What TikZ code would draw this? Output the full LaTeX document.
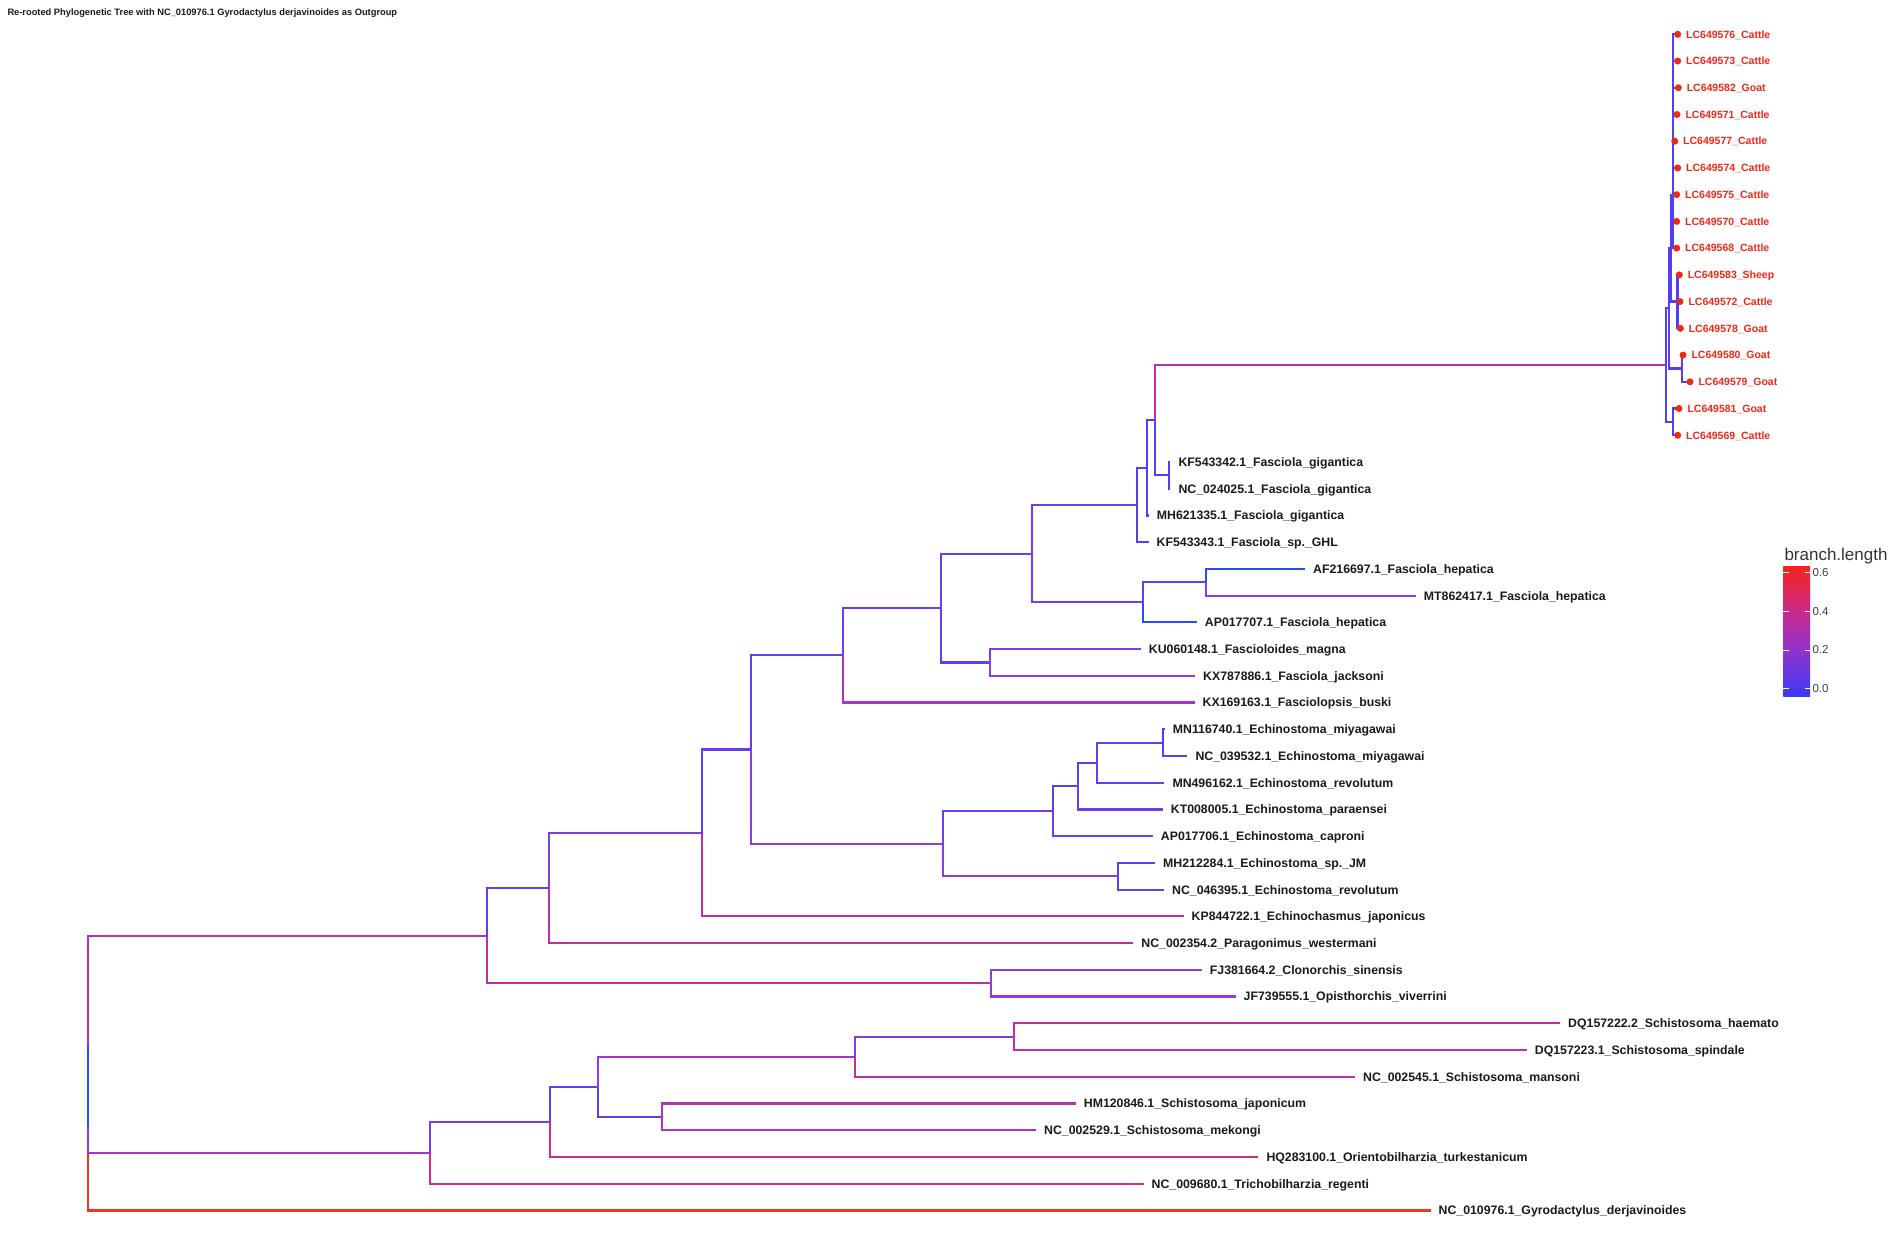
\documentclass[tikz,border=0pt]{standalone}
\usepackage{fontspec}
\setmainfont{Liberation Sans}
\newdimen\brdA
\newdimen\brdB
\definecolor{cA0}{RGB}{82,62,245}
\definecolor{cA1}{RGB}{142,60,228}
\definecolor{cA2}{RGB}{185,48,172}
\definecolor{cA3}{RGB}{210,45,135}
\definecolor{cA4}{RGB}{242,52,35}
\definecolor{brblue}{RGB}{45,75,245}
\definecolor{tipred}{RGB}{240,40,22}
\definecolor{labblack}{RGB}{26,26,26}
\definecolor{lg0}{RGB}{58,58,245}
\definecolor{lg1}{RGB}{145,50,205}
\definecolor{lg2}{RGB}{200,42,140}
\definecolor{lg3}{RGB}{245,35,30}
\newcommand\setbc[1]{%
  \pgfmathsetmacro\tq{min(1,max(0,#1))}%
  \ifdim\tq pt<0.15pt
    \pgfmathsetmacro\pp{100*\tq/0.15}\colorlet{bc}{cA1!\pp!cA0}%
  \else\ifdim\tq pt<0.35pt
    \pgfmathsetmacro\pp{100*(\tq-0.15)/0.2}\colorlet{bc}{cA2!\pp!cA1}%
  \else\ifdim\tq pt<0.55pt
    \pgfmathsetmacro\pp{100*(\tq-0.35)/0.2}\colorlet{bc}{cA3!\pp!cA2}%
  \else
    \pgfmathsetmacro\pp{100*(\tq-0.55)/0.45}\colorlet{bc}{cA4!\pp!cA3}%
  \fi\fi\fi}
\newcommand\edge[2]{%
  \pgfextractx{\brdA}{\pgfpointanchor{#1}{center}}%
  \pgfextractx{\brdB}{\pgfpointanchor{#2}{center}}%
  \pgfmathsetmacro\blen{(\brdB-\brdA)/1342.9}%
  \setbc{\blen}%
  \draw[branch, draw=bc] (#1) |- (#2);}
\newcommand\edgec[3]{\draw[branch, draw=#3] (#1) |- (#2);}
\begin{document}
\begin{tikzpicture}[x=1pt,y=-1pt,
  declare function={ty(\i)=34.3+(\i-1)*26.73;},
  branch/.style={line width=2.2pt, line join=miter},
  lab/.style={font=\fontsize{12.3}{12.3}\selectfont\bfseries, anchor=west, inner sep=0pt, text height=8.8pt, text depth=0pt, text=labblack},
  lclab/.style={font=\fontsize{10.5}{10.5}\selectfont\bfseries, anchor=west, inner sep=0pt, text height=7.5pt, text depth=0pt, text=tipred},
  tipdot/.style={circle, fill=tipred, inner sep=0pt, minimum size=7pt},
  legnum/.style={font=\fontsize{11.5}{11.5}\selectfont, anchor=west, inner sep=0pt, text height=8.2pt, text depth=0pt, text=black!75}]
\useasboundingbox (0,0) rectangle (1902,1238);
\fill[white] (0,0) rectangle (1902,1238);

% title
\node[anchor=base west, inner sep=0pt, font=\fontsize{9.3}{9.3}\selectfont\bfseries, text=labblack] (title) at (7.3,15.6)
  {Re-rooted Phylogenetic Tree with NC\_010976.1 Gyrodactylus derjavinoides as Outgroup};

% ---------- tips ----------
\coordinate (t1) at (1677.7,{ty(1)});
\coordinate (t2) at (1677.7,{ty(2)});
\coordinate (t3) at (1678.3,{ty(3)});
\coordinate (t4) at (1677.0,{ty(4)});
\coordinate (t5) at (1674.7,{ty(5)});
\coordinate (t6) at (1677.7,{ty(6)});
\coordinate (t7) at (1676.7,{ty(7)});
\coordinate (t8) at (1676.7,{ty(8)});
\coordinate (t9) at (1676.7,{ty(9)});
\coordinate (t10) at (1679.3,{ty(10)});
\coordinate (t11) at (1680.0,{ty(11)});
\coordinate (t12) at (1680.3,{ty(12)});
\coordinate (t13) at (1683.0,{ty(13)});
\coordinate (t14) at (1690.0,{ty(14)});
\coordinate (t15) at (1679.0,{ty(15)});
\coordinate (t16) at (1677.7,{ty(16)});
\coordinate (t17) at (1170.3,{ty(17)});
\coordinate (t18) at (1170.3,{ty(18)});
\coordinate (t19) at (1148.7,{ty(19)});
\coordinate (t20) at (1148.5,{ty(20)});
\coordinate (t21) at (1305.0,{ty(21)});
\coordinate (t22) at (1415.7,{ty(22)});
\coordinate (t23) at (1196.7,{ty(23)});
\coordinate (t24) at (1140.7,{ty(24)});
\coordinate (t25) at (1195.0,{ty(25)});
\coordinate (t26) at (1194.5,{ty(26)});
\coordinate (t27) at (1164.7,{ty(27)});
\coordinate (t28) at (1187.3,{ty(28)});
\coordinate (t29) at (1164.3,{ty(29)});
\coordinate (t30) at (1162.7,{ty(30)});
\coordinate (t31) at (1152.7,{ty(31)});
\coordinate (t32) at (1155.0,{ty(32)});
\coordinate (t33) at (1164.0,{ty(33)});
\coordinate (t34) at (1183.5,{ty(34)});
\coordinate (t35) at (1133.2,{ty(35)});
\coordinate (t36) at (1201.7,{ty(36)});
\coordinate (t37) at (1235.5,{ty(37)});
\coordinate (t38) at (1560.0,{ty(38)});
\coordinate (t39) at (1526.7,{ty(39)});
\coordinate (t40) at (1355.0,{ty(40)});
\coordinate (t41) at (1075.7,{ty(41)});
\coordinate (t42) at (1036.0,{ty(42)});
\coordinate (t43) at (1258.3,{ty(43)});
\coordinate (t44) at (1143.5,{ty(44)});
\coordinate (t45) at (1430.5,{ty(45)});

% ---------- internal nodes ----------
\coordinate (nN)   at (1673.0,{ty(7)});
\coordinate (nR)   at (1677.5,{ty(11)});
\coordinate (nM)   at (1671.0,{ty(9)});
\coordinate (nP13) at (1682.3,{ty(13.5)});
\coordinate (nL1)  at (1669.3,{ty(11.25)});
\coordinate (nL15) at (1672.7,{ty(15.5)});
\coordinate (nL0)  at (1666.0,{ty(13.375)});
\coordinate (nG17) at (1169.3,{ty(17.5)});
\coordinate (nCp)  at (1155.0,{ty(15.4375)});
\coordinate (nB)   at (1147.3,{ty(17.21875)});
\coordinate (nA)   at (1136.7,{ty(18.609375)});
\coordinate (nE)   at (1206.0,{ty(21.5)});
\coordinate (nD)   at (1142.7,{ty(22.25)});
\coordinate (nF2)  at (1031.7,{ty(20.4296875)});
\coordinate (nMJ)  at (990.0,{ty(24.5)});
\coordinate (nF)   at (940.7,{ty(22.46484375)});
\coordinate (nG)   at (842.9,{ty(24.232421875)});
\coordinate (nP27) at (1162.7,{ty(27.5)});
\coordinate (nE3)  at (1096.7,{ty(28.25)});
\coordinate (nE2)  at (1078.3,{ty(29.125)});
\coordinate (nE1)  at (1052.7,{ty(30.0625)});
\coordinate (nP32) at (1118.3,{ty(32.5)});
\coordinate (nEC)  at (943.3,{ty(31.28125)});
\coordinate (nH)   at (751.3,{ty(27.7568359)});
\coordinate (nI)   at (702.2,{ty(30.8784180)});
\coordinate (nJ)   at (549.1,{ty(32.9392090)});
\coordinate (nCO)  at (990.7,{ty(36.5)});
\coordinate (nK)   at (487.1,{ty(34.7196045)});
\coordinate (nS6)  at (1014.0,{ty(38.5)});
\coordinate (nS5)  at (855.0,{ty(39.25)});
\coordinate (nS4)  at (662.3,{ty(41.5)});
\coordinate (nS3)  at (598.3,{ty(40.375)});
\coordinate (nS2)  at (549.9,{ty(41.6875)});
\coordinate (nS1)  at (429.7,{ty(42.84375)});
\coordinate (nX)   at (87.6,{ty(38.7817)});
\coordinate (root) at (87.6,{ty(41.8908)});

% ---------- edges ----------
\edge{root}{t45}
\edge{nX}{nS1}
\edge{nX}{nK}
\edgec{root}{nX}{brblue}
\edge{nK}{nJ}
\edge{nK}{nCO}
\edge{nCO}{t36}
\edge{nCO}{t37}
\edge{nJ}{nI}
\edge{nJ}{t35}
\edge{nI}{nH}
\edge{nI}{t34}
\edge{nH}{nG}
\edge{nH}{nEC}
\edge{nEC}{nE1}
\edge{nEC}{nP32}
\edge{nP32}{t32}
\edge{nP32}{t33}
\edge{nE1}{nE2}
\edge{nE1}{t31}
\edge{nE2}{nE3}
\edge{nE2}{t30}
\edge{nE3}{nP27}
\edge{nE3}{t29}
\edge{nP27}{t27}
\edge{nP27}{t28}
\edge{nG}{nF}
\edge{nG}{t26}
\edge{nF}{nF2}
\edge{nF}{nMJ}
\edge{nMJ}{t24}
\edge{nMJ}{t25}
\edge{nF2}{nA}
\edge{nF2}{nD}
\edge{nD}{nE}
\edgec{nD}{t23}{brblue}
\edgec{nE}{t21}{brblue}
\edge{nE}{t22}
\edge{nA}{nB}
\edge{nA}{t20}
\edge{nB}{nCp}
\edge{nB}{t19}
\edge{nCp}{nL0}
\edge{nCp}{nG17}
\edge{nG17}{t17}
\edge{nG17}{t18}
\edge{nL0}{nL1}
\edge{nL0}{nL15}
\edge{nL15}{t15}
\edge{nL15}{t16}
\edge{nL1}{nM}
\edge{nL1}{nP13}
\edge{nP13}{t13}
\edge{nP13}{t14}
\edge{nM}{nN}
\edge{nM}{nR}
\edge{nR}{t10}
\edge{nR}{t11}
\edge{nR}{t12}
\edge{nN}{t1}
\edge{nN}{t2}
\edge{nN}{t3}
\edge{nN}{t4}
\edge{nN}{t5}
\edge{nN}{t6}
\edge{nN}{t7}
\edge{nN}{t8}
\edge{nN}{t9}
\edge{nS1}{nS2}
\edge{nS1}{t44}
\edge{nS2}{nS3}
\edge{nS2}{t43}
\edge{nS3}{nS5}
\edge{nS3}{nS4}
\edge{nS4}{t41}
\edge{nS4}{t42}
\edge{nS5}{nS6}
\edge{nS5}{t40}
\edge{nS6}{t38}
\edge{nS6}{t39}

% ---------- tip points and labels (LC) ----------
\foreach \i/\s in {1/LC649576\_Cattle, 2/LC649573\_Cattle, 3/LC649582\_Goat, 4/LC649571\_Cattle,
  5/LC649577\_Cattle, 6/LC649574\_Cattle, 7/LC649575\_Cattle, 8/LC649570\_Cattle, 9/LC649568\_Cattle,
  10/LC649583\_Sheep, 11/LC649572\_Cattle, 12/LC649578\_Goat, 13/LC649580\_Goat, 14/LC649579\_Goat,
  15/LC649581\_Goat, 16/LC649569\_Cattle}{
  \node[tipdot] (d\i) at (t\i) {};
  \node[lclab] (l\i) at ([xshift=8.3pt]t\i) {\s};
}

% ---------- tip labels ----------
\node[lab] (l17) at ([xshift=8pt]t17) {KF543342.1\_Fasciola\_gigantica};
\node[lab] (l18) at ([xshift=8pt]t18) {NC\_024025.1\_Fasciola\_gigantica};
\node[lab] (l19) at ([xshift=8pt]t19) {MH621335.1\_Fasciola\_gigantica};
\node[lab] (l20) at ([xshift=8pt]t20) {KF543343.1\_Fasciola\_sp.\_GHL};
\node[lab] (l21) at ([xshift=8pt]t21) {AF216697.1\_Fasciola\_hepatica};
\node[lab] (l22) at ([xshift=8pt]t22) {MT862417.1\_Fasciola\_hepatica};
\node[lab] (l23) at ([xshift=8pt]t23) {AP017707.1\_Fasciola\_hepatica};
\node[lab] (l24) at ([xshift=8pt]t24) {KU060148.1\_Fascioloides\_magna};
\node[lab] (l25) at ([xshift=8pt]t25) {KX787886.1\_Fasciola\_jacksoni};
\node[lab] (l26) at ([xshift=8pt]t26) {KX169163.1\_Fasciolopsis\_buski};
\node[lab] (l27) at ([xshift=8pt]t27) {MN116740.1\_Echinostoma\_miyagawai};
\node[lab] (l28) at ([xshift=8pt]t28) {NC\_039532.1\_Echinostoma\_miyagawai};
\node[lab] (l29) at ([xshift=8pt]t29) {MN496162.1\_Echinostoma\_revolutum};
\node[lab] (l30) at ([xshift=8pt]t30) {KT008005.1\_Echinostoma\_paraensei};
\node[lab] (l31) at ([xshift=8pt]t31) {AP017706.1\_Echinostoma\_caproni};
\node[lab] (l32) at ([xshift=8pt]t32) {MH212284.1\_Echinostoma\_sp.\_JM};
\node[lab] (l33) at ([xshift=8pt]t33) {NC\_046395.1\_Echinostoma\_revolutum};
\node[lab] (l34) at ([xshift=8pt]t34) {KP844722.1\_Echinochasmus\_japonicus};
\node[lab] (l35) at ([xshift=8pt]t35) {NC\_002354.2\_Paragonimus\_westermani};
\node[lab] (l36) at ([xshift=8pt]t36) {FJ381664.2\_Clonorchis\_sinensis};
\node[lab] (l37) at ([xshift=8pt]t37) {JF739555.1\_Opisthorchis\_viverrini};
\node[lab] (l38) at ([xshift=8pt]t38) {DQ157222.2\_Schistosoma\_haemato};
\node[lab] (l39) at ([xshift=8pt]t39) {DQ157223.1\_Schistosoma\_spindale};
\node[lab] (l40) at ([xshift=8pt]t40) {NC\_002545.1\_Schistosoma\_mansoni};
\node[lab] (l41) at ([xshift=8pt]t41) {HM120846.1\_Schistosoma\_japonicum};
\node[lab] (l42) at ([xshift=8pt]t42) {NC\_002529.1\_Schistosoma\_mekongi};
\node[lab] (l43) at ([xshift=8pt]t43) {HQ283100.1\_Orientobilharzia\_turkestanicum};
\node[lab] (l44) at ([xshift=8pt]t44) {NC\_009680.1\_Trichobilharzia\_regenti};
\node[lab] (l45) at ([xshift=8pt]t45) {NC\_010976.1\_Gyrodactylus\_derjavinoides};

% ---------- legend ----------
\node[anchor=base west, inner sep=0pt, font=\fontsize{17}{17}\selectfont, text=black!80] (legtitle) at (1784.3,560.7) {branch.length};
\shade[bottom color=lg0, top color=lg1] (1783.3,696.7) rectangle (1810,649.8);
\shade[bottom color=lg1, top color=lg2] (1783.3,650.3) rectangle (1810,611.1);
\shade[bottom color=lg2, top color=lg3] (1783.3,611.6) rectangle (1810,566.7);
\foreach \yy in {688.5,649.8,611.1,572.4}{
  \draw[white, line width=0.6pt] (1783.3,\yy) -- ++(5.3,0);
  \draw[white, line width=0.6pt] (1810,\yy) -- ++(-5.3,0);
}
\node[legnum] (lg00) at (1812.3,688.5) {0.0};
\node[legnum] (lg02) at (1812.3,649.8) {0.2};
\node[legnum] (lg04) at (1812.3,611.1) {0.4};
\node[legnum] (lg06) at (1812.3,572.4) {0.6};
\end{tikzpicture}
\end{document}
